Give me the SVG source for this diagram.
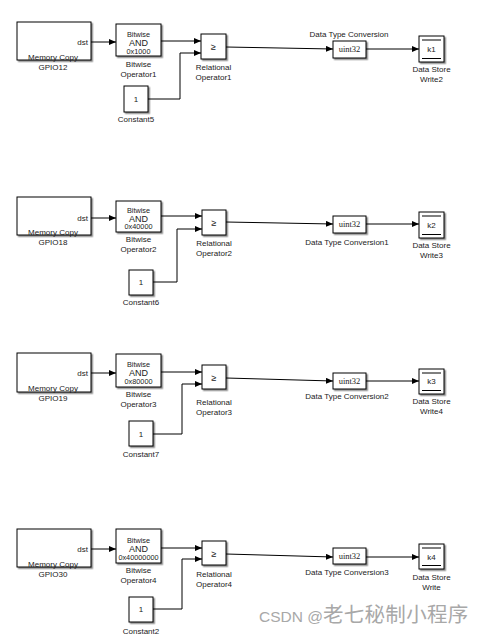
<svg xmlns="http://www.w3.org/2000/svg" width="486" height="636" viewBox="0 0 486 636">
<defs>
<marker id="ah" markerWidth="7" markerHeight="6" refX="7" refY="3" orient="auto" markerUnits="userSpaceOnUse">
<path d="M0,0 L7,3 L0,6 Z" fill="#000"/>
</marker>
<filter id="sh" x="-10%" y="-10%" width="130%" height="130%">
<feDropShadow dx="1.5" dy="1.5" stdDeviation="0.6" flood-color="#000" flood-opacity="0.45"/>
</filter>
</defs>
<style>
.b{fill:#fff;stroke:#000;stroke-width:1;filter:url(#sh)}
.t{font-family:"Liberation Sans",Arial,sans-serif;font-size:8px;fill:#222;text-anchor:middle}
.tr{font-family:"Liberation Sans",Arial,sans-serif;font-size:8px;fill:#222;text-anchor:end}
.s{font-family:"Liberation Serif","Times New Roman",serif;font-size:8.5px;fill:#222;text-anchor:middle}
.in{font-size:7.3px}
.big{font-size:9px}
.w{fill:none;stroke:#000;stroke-width:1;marker-end:url(#ah)}
.il{stroke:#000;stroke-width:1}
.wm{font-family:"Liberation Sans","Noto Sans CJK SC",sans-serif;fill:#a8a8a8}
</style>
<rect width="486" height="636" fill="#fff"/>

<g id="connectors">
<line class="w" x1="91" y1="42" x2="116" y2="42"/>
<line class="w" x1="161" y1="41" x2="201" y2="41"/>
<polyline class="w" points="148,99 180,99 180,53 201,53"/>
<line class="w" x1="226" y1="47" x2="333" y2="49"/>
<line class="w" x1="366" y1="49" x2="419" y2="49"/>

<line class="w" x1="91" y1="218" x2="116" y2="218"/>
<line class="w" x1="161" y1="216" x2="202" y2="216"/>
<polyline class="w" points="153,282 177,282 177,229 202,229"/>
<line class="w" x1="226" y1="222" x2="333" y2="224"/>
<line class="w" x1="366" y1="224" x2="419" y2="224"/>

<line class="w" x1="91" y1="373" x2="116" y2="373"/>
<line class="w" x1="161" y1="372" x2="202" y2="372"/>
<polyline class="w" points="153,434 182,434 182,384 202,384"/>
<line class="w" x1="226" y1="378" x2="333" y2="381"/>
<line class="w" x1="366" y1="381" x2="419" y2="381"/>

<line class="w" x1="91" y1="549" x2="116" y2="549"/>
<line class="w" x1="161" y1="548" x2="202" y2="548"/>
<polyline class="w" points="153,609 182,609 182,559 202,559"/>
<line class="w" x1="226" y1="554" x2="333" y2="557"/>
<line class="w" x1="366" y1="557" x2="419" y2="557"/>
</g>

<!-- Row 1 -->
<g id="gpio12">
<rect class="b" x="17" y="22" width="74" height="38"/>
<text class="tr" x="88" y="45">dst</text>
<text class="t" x="53" y="60">Memory Copy</text>
<text class="t" x="53" y="70">GPIO12</text>
</g>
<g id="bitwise1">
<rect class="b" x="116" y="24" width="45" height="32"/>
<text class="t in" x="138.5" y="36.5">Bitwise</text>
<text class="t big" x="138.5" y="45.5">AND</text>
<text class="t in" x="138.5" y="53.5">0x1000</text>
<text class="t" x="138.5" y="67">Bitwise</text>
<text class="t" x="138.5" y="77">Operator1</text>
</g>
<g id="relational1">
<rect class="b" x="201" y="34" width="25" height="25"/>
<text class="t big" x="213.5" y="50">≥</text>
<text class="t" x="213.5" y="70">Relational</text>
<text class="t" x="213.5" y="80">Operator1</text>
</g>
<g id="constant5">
<rect class="b" x="124" y="86" width="24" height="26"/>
<text class="t" x="136" y="102">1</text>
<text class="t" x="136" y="122">Constant5</text>
</g>
<g id="dtc">
<rect class="b" x="333" y="41" width="33" height="17"/>
<text class="s" x="349.5" y="52">uint32</text>
<text class="t" x="349" y="37">Data Type Conversion</text>
</g>
<g id="dsw2">
<rect class="b" x="419" y="36" width="25" height="26"/>
<line class="il" x1="422" y1="40" x2="441" y2="40"/>
<line class="il" x1="422" y1="58.5" x2="441" y2="58.5"/>
<text class="t" x="431.5" y="52">k1</text>
<text class="t" x="431.5" y="72">Data Store</text>
<text class="t" x="431.5" y="82">Write2</text>
</g>

<!-- Row 2 -->
<g id="gpio18">
<rect class="b" x="17" y="197" width="74" height="38"/>
<text class="tr" x="88" y="221">dst</text>
<text class="t" x="53" y="235">Memory Copy</text>
<text class="t" x="53" y="245">GPIO18</text>
</g>
<g id="bitwise2">
<rect class="b" x="116" y="201" width="45" height="31"/>
<text class="t in" x="138.5" y="212.5">Bitwise</text>
<text class="t big" x="138.5" y="221.5">AND</text>
<text class="t in" x="138.5" y="229">0x40000</text>
<text class="t" x="138.5" y="242">Bitwise</text>
<text class="t" x="138.5" y="252">Operator2</text>
</g>
<g id="relational2">
<rect class="b" x="202" y="210" width="24" height="25"/>
<text class="t big" x="214" y="226">≥</text>
<text class="t" x="214" y="246">Relational</text>
<text class="t" x="214" y="256">Operator2</text>
</g>
<g id="constant6">
<rect class="b" x="129" y="270" width="24" height="25"/>
<text class="t" x="141" y="285">1</text>
<text class="t" x="141" y="305">Constant6</text>
</g>
<g id="dtc1">
<rect class="b" x="333" y="216" width="33" height="17"/>
<text class="s" x="349.5" y="227">uint32</text>
<text class="t" x="347" y="245">Data Type Conversion1</text>
</g>
<g id="dsw3">
<rect class="b" x="419" y="212" width="25" height="26"/>
<line class="il" x1="422" y1="216" x2="441" y2="216"/>
<line class="il" x1="422" y1="234.5" x2="441" y2="234.5"/>
<text class="t" x="431.5" y="228">k2</text>
<text class="t" x="431.5" y="248">Data Store</text>
<text class="t" x="431.5" y="258">Write3</text>
</g>

<!-- Row 3 -->
<g id="gpio19">
<rect class="b" x="17" y="353" width="74" height="39"/>
<text class="tr" x="88" y="376">dst</text>
<text class="t" x="53" y="391">Memory Copy</text>
<text class="t" x="53" y="401">GPIO19</text>
</g>
<g id="bitwise3">
<rect class="b" x="116" y="354" width="45" height="33"/>
<text class="t in" x="138.5" y="367">Bitwise</text>
<text class="t big" x="138.5" y="376">AND</text>
<text class="t in" x="138.5" y="384">0x80000</text>
<text class="t" x="138.5" y="397">Bitwise</text>
<text class="t" x="138.5" y="407">Operator3</text>
</g>
<g id="relational3">
<rect class="b" x="202" y="365" width="24" height="24"/>
<text class="t big" x="214" y="381">≥</text>
<text class="t" x="214" y="405">Relational</text>
<text class="t" x="214" y="415">Operator3</text>
</g>
<g id="constant7">
<rect class="b" x="129" y="421" width="24" height="25"/>
<text class="t" x="141" y="437">1</text>
<text class="t" x="141" y="457">Constant7</text>
</g>
<g id="dtc2">
<rect class="b" x="333" y="373" width="33" height="16"/>
<text class="s" x="349.5" y="384">uint32</text>
<text class="t" x="347" y="399">Data Type Conversion2</text>
</g>
<g id="dsw4">
<rect class="b" x="419" y="369" width="25" height="25"/>
<line class="il" x1="422" y1="373" x2="441" y2="373"/>
<line class="il" x1="422" y1="390.5" x2="441" y2="390.5"/>
<text class="t" x="431.5" y="384">k3</text>
<text class="t" x="431.5" y="404">Data Store</text>
<text class="t" x="431.5" y="414">Write4</text>
</g>

<!-- Row 4 -->
<g id="gpio30">
<rect class="b" x="17" y="529" width="74" height="38"/>
<text class="tr" x="88" y="552">dst</text>
<text class="t" x="53" y="567">Memory Copy</text>
<text class="t" x="53" y="577">GPIO30</text>
</g>
<g id="bitwise4">
<rect class="b" x="116" y="529" width="45" height="34"/>
<text class="t in" x="138.5" y="542.5">Bitwise</text>
<text class="t big" x="138.5" y="551.5">AND</text>
<text class="t in" x="138.5" y="559.5">0x40000000</text>
<text class="t" x="138.5" y="573">Bitwise</text>
<text class="t" x="138.5" y="583">Operator4</text>
</g>
<g id="relational4">
<rect class="b" x="202" y="541" width="24" height="24"/>
<text class="t big" x="214" y="557">≥</text>
<text class="t" x="214" y="577">Relational</text>
<text class="t" x="214" y="587">Operator4</text>
</g>
<g id="constant2">
<rect class="b" x="129" y="597" width="24" height="25"/>
<text class="t" x="141" y="612">1</text>
<text class="t" x="141" y="634">Constant2</text>
</g>
<g id="dtc3">
<rect class="b" x="333" y="548" width="33" height="16"/>
<text class="s" x="349.5" y="559">uint32</text>
<text class="t" x="347" y="575">Data Type Conversion3</text>
</g>
<g id="dsw">
<rect class="b" x="419" y="544" width="25" height="25"/>
<line class="il" x1="422" y1="548" x2="441" y2="548"/>
<line class="il" x1="422" y1="565.5" x2="441" y2="565.5"/>
<text class="t" x="431.5" y="560">k4</text>
<text class="t" x="431.5" y="580">Data Store</text>
<text class="t" x="431.5" y="590">Write</text>
</g>

<text class="wm" x="259" y="622"><tspan font-size="15.5">CSDN @</tspan><tspan font-size="20.5" letter-spacing="0.3">老七秘制小程序</tspan></text>
</svg>
